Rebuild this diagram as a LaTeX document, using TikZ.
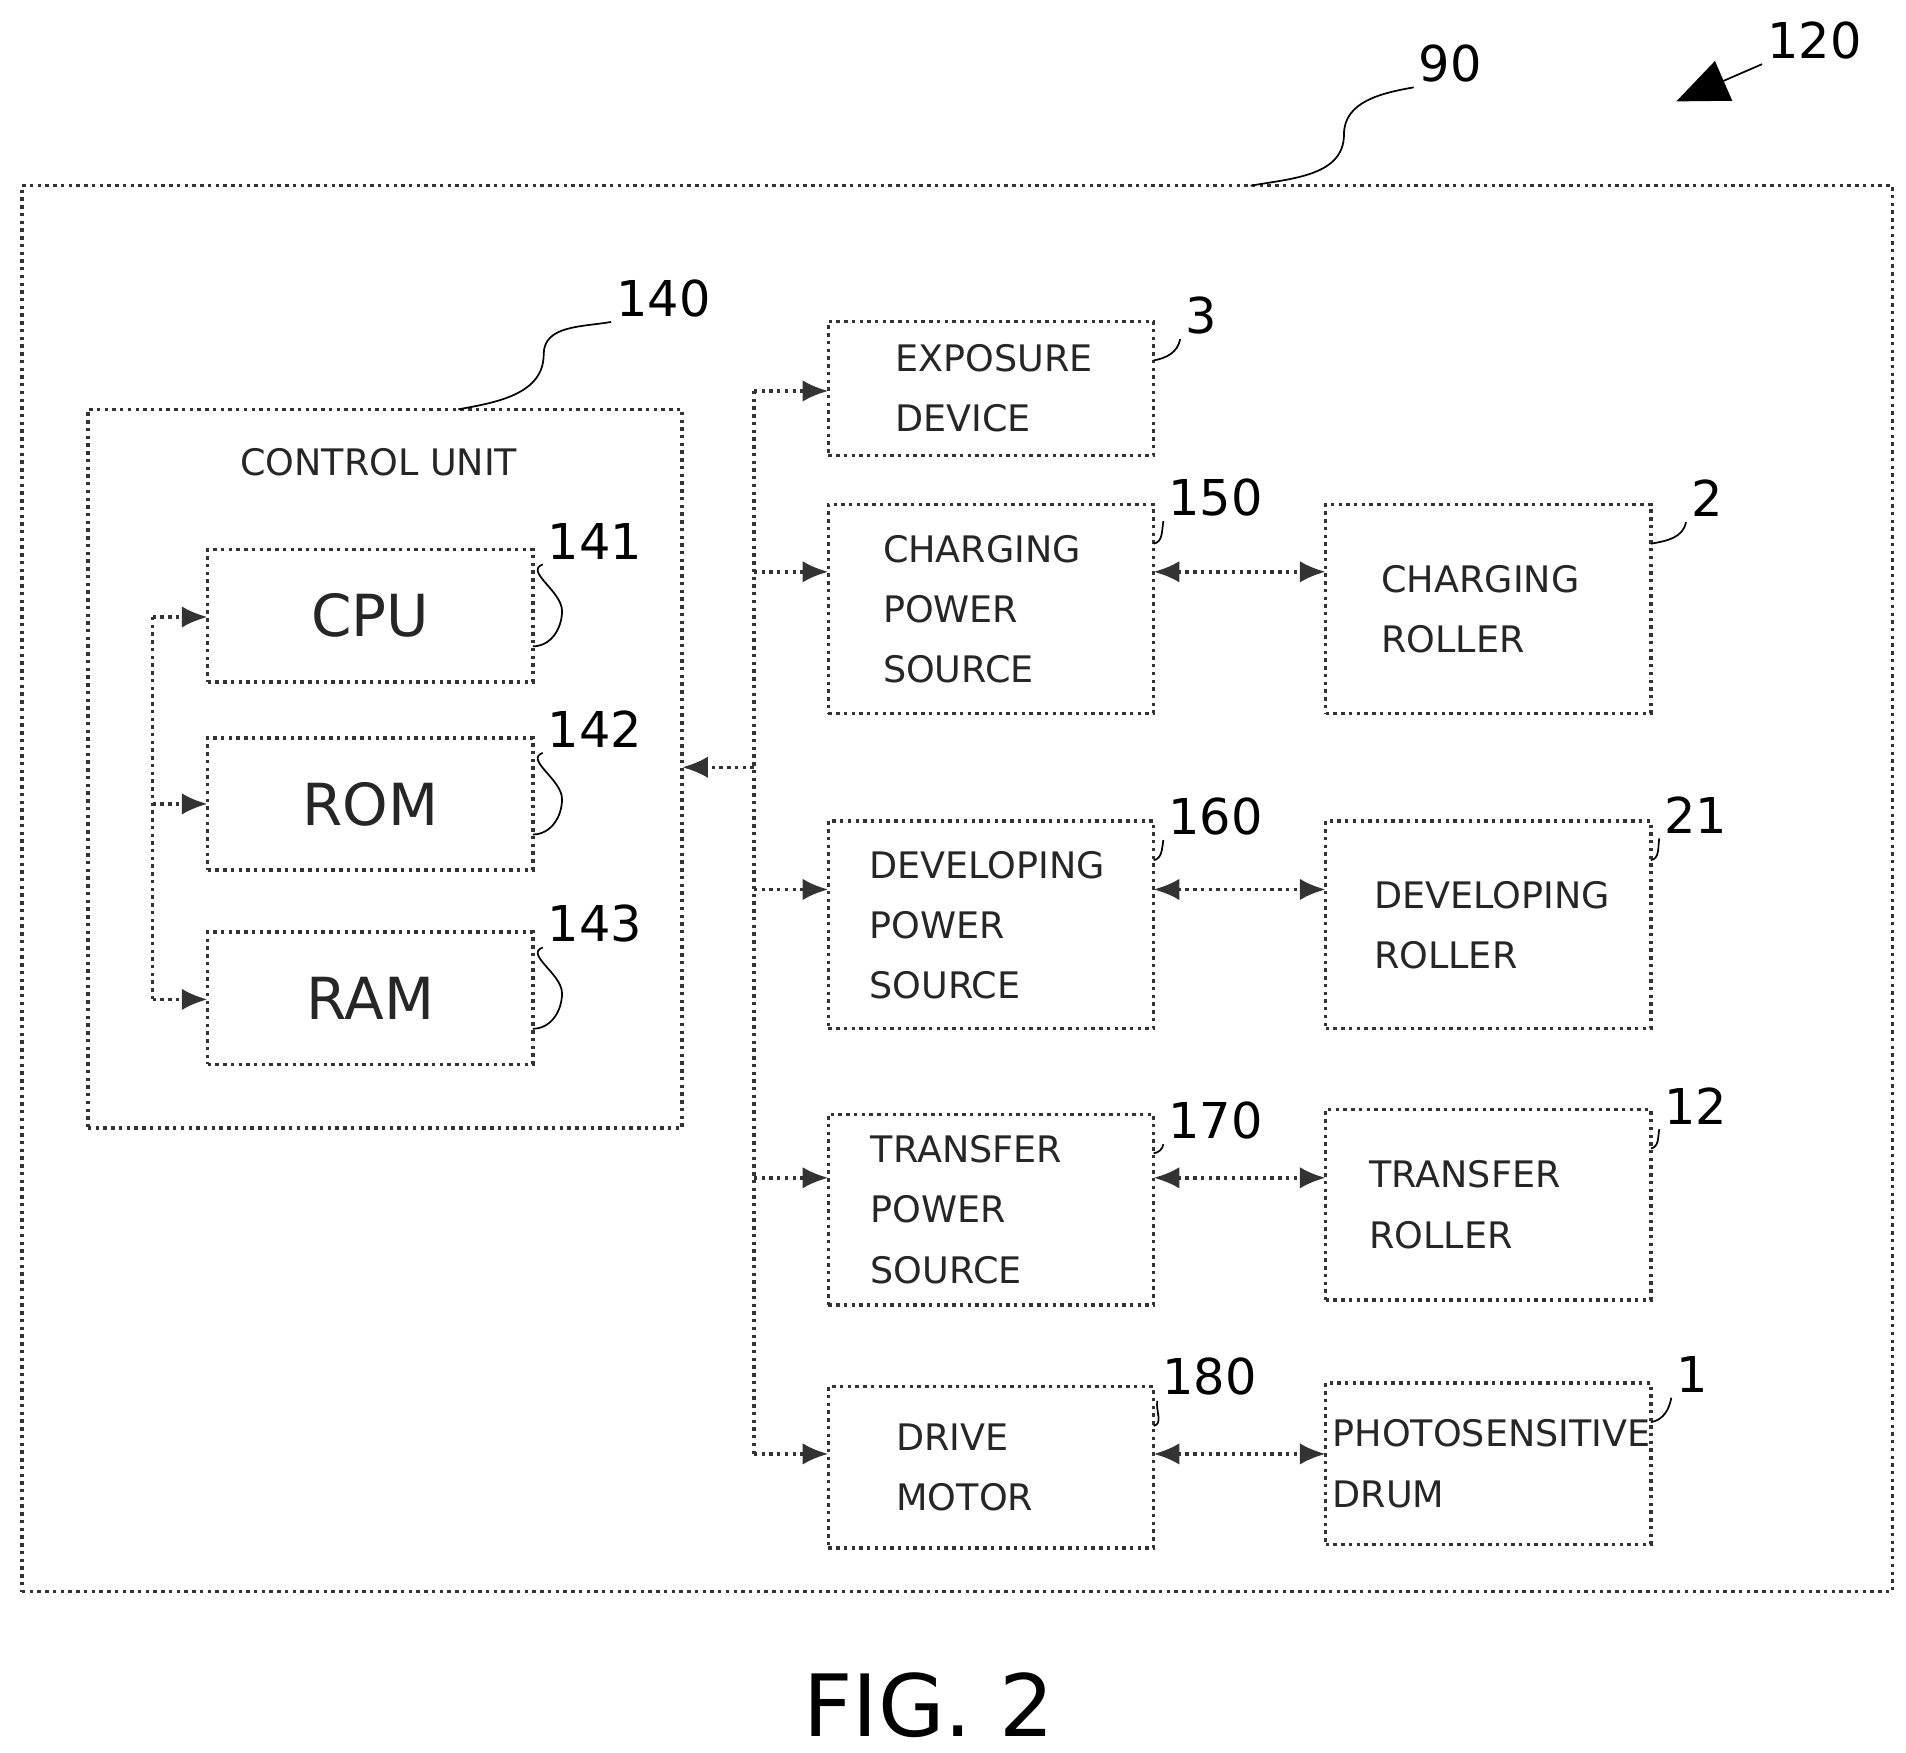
\documentclass[tikz,border=0pt]{standalone}
\usepackage{fontspec}
\setmainfont{DejaVu Sans}
\usetikzlibrary{arrows.meta}

\begin{document}
\begin{tikzpicture}[x=0.01cm,y=-0.01cm]
\tikzset{
  box/.style={draw=black!80,densely dotted,thick,text=black!85,font=\fontsize{8.5}{14}\selectfont,align=left,anchor=north west,inner sep=0pt,outer sep=0pt},
  num/.style={font=\fontsize{11.5}{14}\selectfont,inner sep=1pt},
  wire/.style={draw=black!80,densely dotted,thick,-{Latex[length=6pt,width=5pt]}},
  both/.style={wire,{Latex[length=6pt,width=5pt]}-{Latex[length=6pt,width=5pt]}},
  lead/.style={draw=black,thin}
}
\useasboundingbox (0,0) rectangle (1560,1434);
% outer frame
\node[box,minimum width=15.3cm,minimum height=11.5cm] (frame) at (18,152) {};
\node[num] (n90) at (1187,52) {90};
\node[num] (n120) at (1485,33) {120};
\coordinate (a120) at (1372,83);
\draw[lead] ([xshift=2.4cm]frame.north) to[out=10,in=-90] (1100,110) to[out=90,in=190] (n90.south west);
\draw[lead,-{Triangle[length=12pt,width=10pt]}] (n120.south west) -- (a120);
% control unit
\node[box,minimum width=4.86cm,minimum height=5.88cm] (ctrl) at (72,335) {};
\node[text=black!85,font=\fontsize{8.5}{14}\selectfont] (ctrltxt) at (310,378) {CONTROL UNIT};
\node[num] (n140) at (543,244) {140};
\draw[lead] ([xshift=0.6cm]ctrl.north) to[out=10,in=-90] (445,290) to[out=90,in=190] (n140.south west);
\foreach \name/\txt/\y/\num in {cpu/CPU/450/141,rom/ROM/604/142,ram/RAM/763/143}{
  \node[box,align=center,anchor=center,font=\fontsize{13.5}{16}\selectfont,minimum width=2.66cm,minimum height=1.08cm] (\name) at (303,\y+54) {\txt};
  \node[num] (n\num) at (487,\y-7) {\num};
  \draw[lead] ([yshift=-0.25cm]\name.east) to[out=0,in=-90] (460,\y+50) to[out=90,in=200] (n\num.south west);
}
\coordinate (lb1) at (125,505);
\coordinate (lb2) at (125,658);
\coordinate (lb3) at (125,818);
\draw[wire] (lb1) -- (cpu.west|-lb1);
\draw[wire] (lb2) -- (rom.west|-lb2);
\draw[wire,-] (lb1) -- (lb3);
\draw[wire] (lb3) -- (ram.west|-lb3);
% devices
\foreach \name/\x/\y/\h/\xs/\txt/\num/\nx/\ny in {
  exp/678/263/110/54/{EXPOSURE\\DEVICE}/3/983/258,
  cps/678/413/171/44/{CHARGING\\POWER\\SOURCE}/150/995/407,
  crl/1085/413/171/45/{CHARGING\\ROLLER}/2/1397/408,
  dps/678/672/170/33/{DEVELOPING\\POWER\\SOURCE}/160/995/668,
  drl/1085/672/170/39/{DEVELOPING\\ROLLER}/21/1388/667,
  tps/678/912/156/34/{TRANSFER\\POWER\\SOURCE}/170/995/917,
  trl/1085/908/156/35/{TRANSFER\\ROLLER}/12/1388/905,
  mot/678/1135/132/55/{DRIVE\\MOTOR}/180/990/1127,
  drm/1085/1132/132/5/{PHOTOSENSITIVE\\DRUM}/1/1385/1125}{
  \node[box,minimum width=2.66cm,minimum height=\h*0.01cm] (\name) at (\x,\y) {};
  \node[anchor=west,text=black!85,font=\fontsize{8.5}{14}\selectfont,align=left,inner sep=0pt] (\name txt) at (\x+\xs,\y+\h/2) {\txt};
  \node[num] (n\num) at (\nx,\ny) {\num};
  \draw[lead] ([yshift=-0.32cm]\name.north east) to[out=10,in=-100] (n\num.south west);
}
% bus
\coordinate (rb0) at (617,320);
\coordinate (rb1) at (617,468);
\coordinate (rbc) at (617,628);
\coordinate (rb2) at (617,728);
\coordinate (rb3) at (617,964);
\coordinate (rb4) at (617,1190);
\draw[wire,-] (rb0) -- (rb4);
\draw[wire] (rb0) -- (exp.west|-rb0);
\draw[wire] (rb1) -- (cps.west|-rb1);
\draw[wire] (rbc) -- (ctrl.east|-rbc);
\draw[wire] (rb2) -- (dps.west|-rb2);
\draw[wire] (rb3) -- (tps.west|-rb3);
\draw[wire] (rb4) -- (mot.west|-rb4);
\draw[both] (cps.east|-rb1) -- (crl.west|-rb1);
\draw[both] (dps.east|-rb2) -- (drl.west|-rb2);
\draw[both] (tps.east|-rb3) -- (trl.west|-rb3);
\draw[both] (mot.east|-rb4) -- (drm.west|-rb4);
\node[font=\fontsize{20}{24}\selectfont] (fig) at (760,1396) {FIG. 2};
\end{tikzpicture}
\end{document}
